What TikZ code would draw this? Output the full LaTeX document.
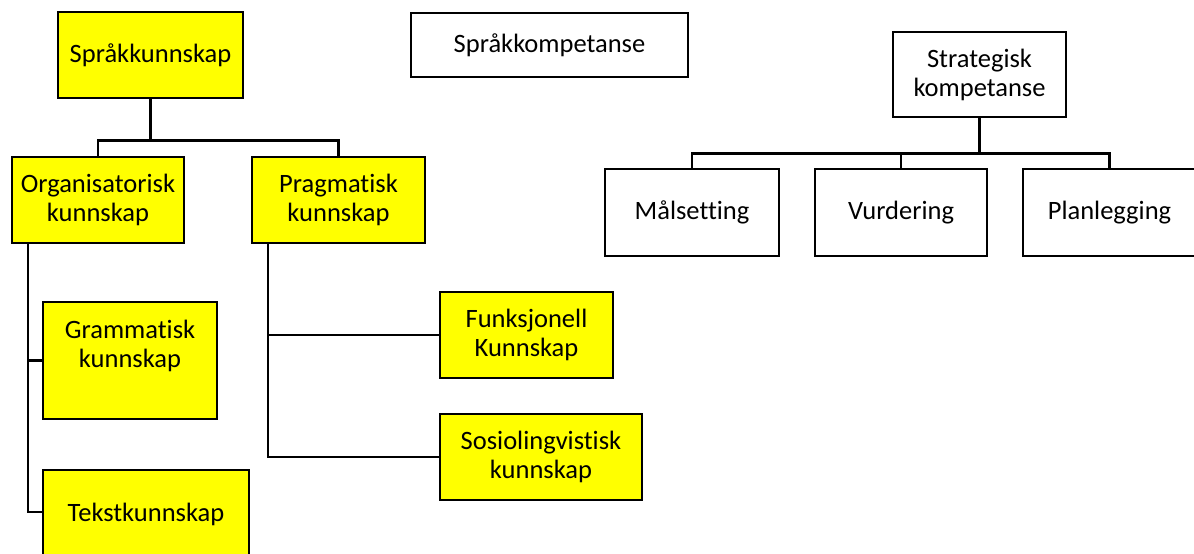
\documentclass[tikz,border=0pt]{standalone}
\usepackage{fontspec}
\setmainfont{Carlito}[Ligatures={NoCommon}]
\definecolor{boxyellow}{RGB}{255,255,0}
\begin{document}
\begin{tikzpicture}[x=1pt,y=-1pt,
  box/.style={draw=black, line width=2.6pt, fill=#1, inner sep=0pt, align=center,
    font=\fontsize{26.5}{29}\selectfont},
  box/.default=white,
  txt/.style={inner sep=0pt, align=center, font=\fontsize{26.5}{29}\selectfont},
  conn/.style={draw=black, line width=2.4pt}]
\useasboundingbox[fill=white] (0,0) rectangle (1194,554);
% left tree
\node[box=boxyellow, minimum width=185pt, minimum height=86pt] (sk) at (150.5,55) {Språkkunnskap};
\node[box=boxyellow, minimum width=172pt, minimum height=86pt] (org) at (98,200) {Organisatorisk\\kunnskap};
\node[box=boxyellow, minimum width=173pt, minimum height=86pt] (prag) at (338.5,200) {Pragmatisk\\kunnskap};
\node[box=boxyellow, minimum width=174pt, minimum height=117pt] (gram) at (130,360.5) {};
\node[txt] (gramtxt) at (130,346) {Grammatisk\\kunnskap};
\node[box=boxyellow, minimum width=206pt, minimum height=88pt] (tekst) at (146,514) {Tekstkunnskap};
\node[box=boxyellow, minimum width=173pt, minimum height=86pt] (funk) at (526.5,335) {Funksjonell\\Kunnskap};
\node[box=boxyellow, minimum width=202pt, minimum height=86pt] (sosio) at (541,457) {Sosiolingvistisk\\kunnskap};
% middle
\node[box, minimum width=277pt, minimum height=64pt] (komp) at (549.5,45) {Språkkompetanse};
% right tree
\node[box, minimum width=173pt, minimum height=85pt] (strat) at (979.5,74.5) {Strategisk\\kompetanse};
\node[box, minimum width=174pt, minimum height=87pt] (mal) at (692,212.5) {Målsetting};
\node[box, minimum width=172pt, minimum height=87pt] (vur) at (901,212.5) {Vurdering};
\node[box, minimum width=173pt, minimum height=87pt] (plan) at (1109.5,212.5) {Planlegging};
% connectors left
\coordinate (skj) at ([yshift=-41pt]sk.south);
\draw[conn] (sk.south) -- (skj);
\draw[conn] (org.north) |- (skj) -| (prag.north);
\draw[conn] ([xshift=17pt]org.south west) |- (gram.west);
\draw[conn] ([xshift=17pt]org.south west) |- ([yshift=2pt]tekst.west);
\draw[conn] ([xshift=17pt]prag.south west) |- (funk.west);
\draw[conn] ([xshift=17pt]prag.south west) |- (sosio.west);
% connectors right
\coordinate (stj) at ([yshift=-35pt]strat.south);
\draw[conn] (strat.south) -- (stj);
\draw[conn] (mal.north) |- (stj) -| (plan.north);
\draw[conn] (vur.north) -- (vur.north |- stj);
\end{tikzpicture}
\end{document}
